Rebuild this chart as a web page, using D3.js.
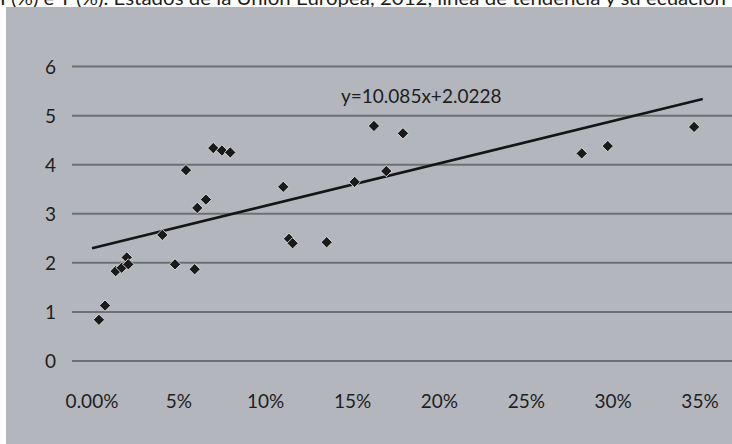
<!DOCTYPE html>
<html>
<head>
<meta charset="utf-8">
<script src="https://cdn.jsdelivr.net/npm/d3@7"></script>
<style>
  html, body { margin: 0; padding: 0; background: #ffffff; }
  svg { display: block; }
  text { font-family: Lato, "Open Sans", sans-serif; fill: #1e1e1e; }
</style>
</head>
<body>
<div id="chart"></div>
<script>
const titleText = "I (%) e Y (%). Estados de la Unión Europea, 2012, línea de tendencia y su ecuación";
const equationText = "y=10.085x+2.0228";

// share (x) and value (y) for each state
const xValues = [0.0040, 0.0075, 0.0136, 0.0171, 0.0200, 0.0209, 0.0405, 0.0478, 0.0541, 0.0591,
                 0.0606, 0.0656, 0.0698, 0.0748, 0.0796, 0.1101, 0.1134, 0.1155, 0.1351, 0.1512,
                 0.1623, 0.1694, 0.1790, 0.2819, 0.2969, 0.3466];
const yValues = [0.84, 1.13, 1.83, 1.90, 2.11, 1.97, 2.57, 1.97, 3.89, 1.87,
                 3.12, 3.29, 4.34, 4.29, 4.25, 3.55, 2.49, 2.40, 2.42, 3.65,
                 4.79, 3.87, 4.64, 4.23, 4.38, 4.77];

// trend line endpoints
const trendX = [0.0, 0.3516];
const trendY = [2.30, 5.34];

const xTicks = [0, 0.05, 0.10, 0.15, 0.20, 0.25, 0.30, 0.35];
const xTickLabels = ["0.00%", "5%", "10%", "15%", "20%", "25%", "30%", "35%"];
const yTicks = [0, 1, 2, 3, 4, 5, 6];

const W = 732, H = 444;
const svg = d3.select("#chart").append("svg").attr("width", W).attr("height", H);

// title (cut by the top edge, as in the source picture)
svg.append("text")
  .attr("x", 0).attr("y", 5)
  .attr("textLength", 726).attr("lengthAdjust", "spacingAndGlyphs")
  .style("font-size", "19px")
  .text(titleText);

// panel
svg.append("rect")
  .attr("x", 6).attr("y", 7).attr("width", W - 6).attr("height", H - 7)
  .attr("fill", "#b3b6bc");

const x = d3.scaleLinear().domain([0, 0.35]).range([92, 700]);
const y = d3.scaleLinear().domain([0, 6]).range([361, 66.6]);

// gridlines
svg.append("g").selectAll("line").data(yTicks).join("line")
  .attr("x1", 72).attr("x2", W)
  .attr("y1", d => y(d)).attr("y2", d => y(d))
  .attr("stroke", "#6e6f72").attr("stroke-width", 2);

// y labels
svg.append("g").selectAll("text").data(yTicks).join("text")
  .attr("x", 56).attr("y", d => y(d) + 7)
  .attr("text-anchor", "end")
  .style("font-size", "19px")
  .text(d => d);

// x labels
svg.append("g").selectAll("text").data(xTicks).join("text")
  .attr("x", d => x(d)).attr("y", 408)
  .attr("text-anchor", "middle")
  .style("font-size", "19px")
  .text((d, i) => xTickLabels[i]);

// trend line
const trend = trendX.map((d, i) => [d, trendY[i]]);
svg.append("path")
  .datum(trend)
  .attr("d", d3.line().x(d => x(d[0])).y(d => y(d[1])))
  .attr("stroke", "#151515").attr("stroke-width", 2.6).attr("fill", "none");

// points
const pts = xValues.map((d, i) => [d, yValues[i]]);
svg.append("g").selectAll("path").data(pts).join("path")
  .attr("d", d3.symbol(d3.symbolSquare, 64)())
  .attr("transform", d => `translate(${x(d[0])},${y(d[1])}) rotate(45)`)
  .attr("fill", "#1a1a1a")
  .attr("stroke", "#e6e6e6").attr("stroke-width", 0.8);

// equation
svg.append("text")
  .attr("x", 341).attr("y", 103)
  .style("font-size", "19px")
  .text(equationText);
</script>
</body>
</html>
